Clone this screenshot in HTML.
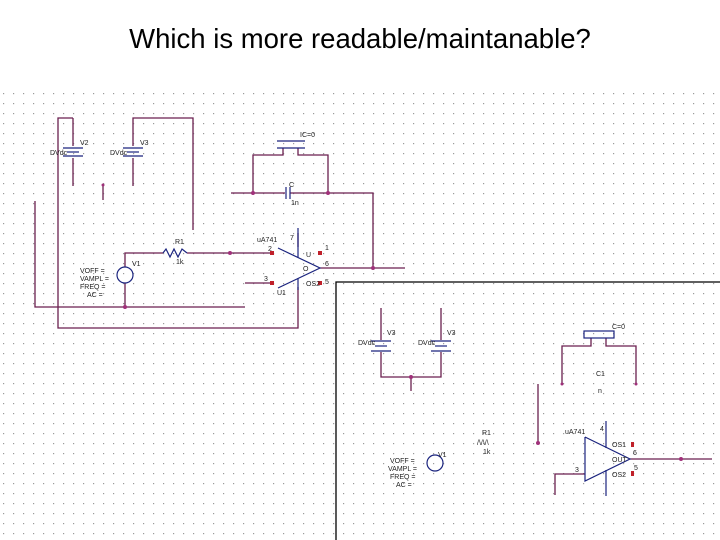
<!DOCTYPE html>
<html><head><style>
body{margin:0;background:#fff;width:720px;height:540px;overflow:hidden}
svg{display:block}
text{font-family:"Liberation Sans",sans-serif}
</style></head><body>
<svg width="720" height="540" xmlns="http://www.w3.org/2000/svg">
<defs><pattern id="g" x="3" y="3" width="10" height="10" patternUnits="userSpaceOnUse"><rect width="1.2" height="1.2" fill="#9a9a9a"/></pattern></defs>
<rect x="0" y="85" width="720" height="455" fill="url(#g)"/>
<text x="360" y="48" font-size="27.5" text-anchor="middle" fill="#000">Which is more readable/maintanable?</text>
<g stroke="#6a1f4f" stroke-width="1.3" fill="none">
<polyline points="73,118 58,118 58,328 298,328 298,287"/>
<line x1="73" y1="118" x2="73" y2="146"/><line x1="73" y1="158" x2="73" y2="186"/>
<polyline points="133,146 133,118 193,118 193,230"/><line x1="133" y1="158" x2="133" y2="186"/>
<line x1="103" y1="185" x2="103" y2="200"/>
<polyline points="35,201 35,307 245,307"/>
<polyline points="125,307 125,283"/><polyline points="125,267 125,253 163,253"/>
<line x1="187" y1="253" x2="273" y2="253"/>
<line x1="245" y1="283" x2="273" y2="283"/>
<line x1="320" y1="268" x2="405" y2="268"/>
<polyline points="373,268 373,193 328,193"/>
<line x1="231" y1="193" x2="285" y2="193"/><line x1="290" y1="193" x2="328" y2="193"/>
<polyline points="253,193 253,155 283,155 283,148"/>
<polyline points="328,193 328,155 298,155 298,148"/>
<line x1="298" y1="233" x2="298" y2="247"/>
<line x1="381" y1="308" x2="381" y2="340"/><line x1="441" y1="308" x2="441" y2="340"/>
<polyline points="381,352 381,377 441,377 441,352"/>
<line x1="411" y1="377" x2="411" y2="391"/>
<polyline points="591,338 591,346 562,346 562,384"/>
<polyline points="606,338 606,346 636,346 636,384"/>
<line x1="538" y1="384" x2="538" y2="443"/>
<polyline points="555,495 555,474 585,474"/>
<line x1="630" y1="459" x2="712" y2="459"/>
</g>
<g fill="#a0307a">
<circle cx="230" cy="253" r="2"/><circle cx="125" cy="307" r="2"/><circle cx="373" cy="268" r="2"/>
<circle cx="253" cy="193" r="2"/><circle cx="328" cy="193" r="2"/><circle cx="103" cy="185" r="1.5"/>
<circle cx="411" cy="377" r="2"/><circle cx="538" cy="443" r="2"/><circle cx="681" cy="459" r="2"/>
<circle cx="562" cy="384" r="1.5"/><circle cx="636" cy="384" r="1.5"/>
</g>
<g stroke="#1a237e" stroke-width="1.2" fill="none">
<line x1="63" y1="148" x2="83" y2="148"/><line x1="67" y1="152" x2="79" y2="152"/><line x1="63" y1="156" x2="83" y2="156"/>
<line x1="123" y1="148" x2="143" y2="148"/><line x1="127" y1="152" x2="139" y2="152"/><line x1="123" y1="156" x2="143" y2="156"/>
<line x1="371" y1="341" x2="391" y2="341"/><line x1="375" y1="346" x2="387" y2="346"/><line x1="371" y1="351" x2="391" y2="351"/>
<line x1="431" y1="341" x2="451" y2="341"/><line x1="435" y1="346" x2="447" y2="346"/><line x1="431" y1="351" x2="451" y2="351"/>
<line x1="277" y1="141" x2="305" y2="141"/><line x1="277" y1="148" x2="305" y2="148"/>
<rect x="584" y="331" width="30" height="7"/>
<line x1="286" y1="187" x2="286" y2="199"/><line x1="290" y1="187" x2="290" y2="199"/>
<circle cx="125" cy="275" r="8"/><circle cx="435" cy="463" r="8"/>
<polyline points="163,253 166,249 170,257 174,249 178,257 182,249 187,253"/>
<polyline points="278,248 320,268 278,288"/>
<line x1="298" y1="228" x2="298" y2="258"/><line x1="298" y1="278" x2="298" y2="290"/>
<polyline points="585,437 585,481 630,459 585,437"/>
<line x1="606" y1="421" x2="606" y2="448"/><line x1="606" y1="470" x2="606" y2="496"/>
</g>
<g fill="#c0202a">
<rect x="270" y="251" width="4" height="4"/><rect x="270" y="281" width="4" height="4"/>
<rect x="318" y="251" width="4" height="4"/><rect x="318" y="281" width="4" height="4"/>
<rect x="631" y="442" width="3" height="5"/><rect x="631" y="471" width="3" height="5"/>
</g>
<g stroke="#000" fill="none" stroke-width="1.3"><polyline points="336,540 336,282 720,282"/></g>
<g font-size="7" fill="#222">
<text x="80" y="145">V2</text><text x="140" y="145">V3</text>
<text x="50" y="155">DVdc</text><text x="110" y="155">DVdc</text>
<text x="300" y="137">IC=0</text><text x="291" y="205">1n</text><text x="289" y="187">C</text>
<text x="175" y="244">R1</text><text x="176" y="264">1k</text>
<text x="257" y="242">uA741</text><text x="268" y="251">2</text><text x="264" y="281">3</text>
<text x="306" y="257">U</text><text x="303" y="271">O</text><text x="306" y="286">OS2</text><text x="277" y="295">U1</text>
<text x="325" y="250">1</text><text x="325" y="266">6</text><text x="325" y="284">5</text><text x="290" y="240">7</text>
<text x="132" y="266">V1</text>
<text x="80" y="273">VOFF =</text><text x="80" y="281">VAMPL =</text><text x="80" y="289">FREQ =</text><text x="87" y="297">AC =</text>
<text x="387" y="335">V3</text><text x="447" y="335">V3</text>
<text x="358" y="345">DVdc</text><text x="418" y="345">DVdc</text>
<text x="612" y="329">C=0</text><text x="596" y="376">C1</text><text x="598" y="393">n</text>
<text x="482" y="435">R1</text><text x="477" y="445">/\/\/\</text><text x="483" y="454">1k</text>
<text x="565" y="434">uA741</text><text x="575" y="472">3</text><text x="600" y="431">4</text>
<text x="612" y="447">OS1</text><text x="612" y="462">OUT</text><text x="612" y="477">OS2</text>
<text x="633" y="455">6</text><text x="634" y="470">5</text>
<text x="438" y="457">V1</text>
<text x="390" y="463">VOFF =</text><text x="388" y="471">VAMPL =</text><text x="390" y="479">FREQ =</text><text x="396" y="487">AC =</text>
</g>
</svg>
</body></html>
